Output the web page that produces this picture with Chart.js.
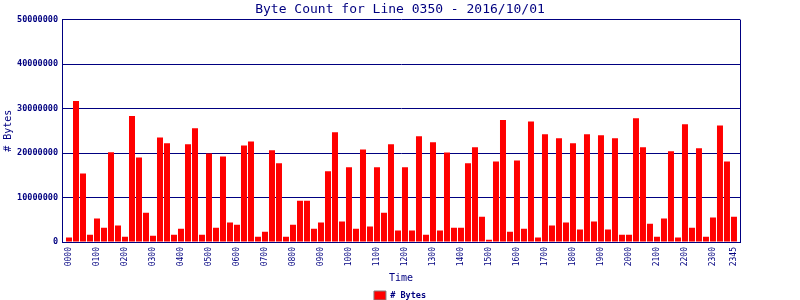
<!DOCTYPE html>
<html>
<head>
<meta charset="utf-8">
<script src="https://cdn.jsdelivr.net/npm/chart.js@4.4.1/dist/chart.umd.min.js"></script>
<style>
  html, body { margin: 0; padding: 0; background: #fff; }
  #wrap { width: 800px; height: 300px; }
</style>
</head>
<body>
<div id="wrap"><canvas id="byteChart" width="800" height="300"></canvas></div>
<script>
// 15 dakikalik zaman dilimleri
const times = [
    "0000","0015","0030","0045","0100","0115","0130","0145","0200","0215","0230","0245",
    "0300","0315","0330","0345","0400","0415","0430","0445","0500","0515","0530","0545",
    "0600","0615","0630","0645","0700","0715","0730","0745","0800","0815","0830","0845",
    "0900","0915","0930","0945","1000","1015","1030","1045","1100","1115","1130","1145",
    "1200","1215","1230","1245","1300","1315","1330","1345","1400","1415","1430","1445",
    "1500","1515","1530","1545","1600","1615","1630","1645","1700","1715","1730","1745",
    "1800","1815","1830","1845","1900","1915","1930","1945","2000","2015","2030","2045",
    "2100","2115","2130","2145","2200","2215","2230","2245","2300","2315","2330","2345"
];

// Byte sayilari (milyon olarak okunmus)
const bytesM = [
    1.0, 31.7, 15.4, 1.65, 5.3, 3.2, 20.2, 3.7, 1.2, 28.3, 19.0, 6.6,
    1.4, 23.5, 22.2, 1.65, 3.0, 22.0, 25.6, 1.65, 19.9, 3.2, 19.2, 4.4,
    3.9, 21.7, 22.6, 1.2, 2.3, 20.6, 17.7, 1.2, 3.9, 9.3, 9.3, 3.0,
    4.4, 15.9, 24.7, 4.6, 16.8, 3.0, 20.8, 3.5, 16.8, 6.6, 22.0, 2.6,
    16.8, 2.6, 23.8, 1.65, 22.4, 2.6, 20.1, 3.2, 3.2, 17.7, 21.3, 5.7,
    0.5, 18.1, 27.4, 2.3, 18.3, 3.0, 27.1, 1.0, 24.2, 3.7, 23.3, 4.4,
    22.2, 2.8, 24.2, 4.6, 24.0, 2.8, 23.3, 1.65, 1.65, 27.8, 21.3, 4.1,
    1.2, 5.3, 20.4, 1.0, 26.5, 3.2, 21.1, 1.2, 5.5, 26.2, 18.1, 5.7
];

// X ekseninde gosterilen etiketler
const tickLabels = [
    "0000","0100","0200","0300","0400","0500","0600","0700","0800","0900","1000","1100",
    "1200","1300","1400","1500","1600","1700","1800","1900","2000","2100","2200","2300","2345"
];

const yTicks = [0, 10000000, 20000000, 30000000, 40000000, 50000000];

const navy = "#000080";
const mono = "'DejaVu Sans Mono', 'Liberation Mono', monospace";

// Cizim alaninin sag kenari
const rightBorder = {
    id: "rightBorder",
    afterDatasetsDraw(chart) {
        const { ctx, chartArea } = chart;
        ctx.save();
        ctx.strokeStyle = navy;
        ctx.lineWidth = 1;
        ctx.beginPath();
        ctx.moveTo(Math.round(chartArea.right) + 0.5, chartArea.top);
        ctx.lineTo(Math.round(chartArea.right) + 0.5, chartArea.bottom);
        ctx.stroke();
        ctx.restore();
    }
};

const ctx = document.getElementById("byteChart").getContext("2d");
new Chart(ctx, {
    type: "bar",
    data: {
        datasets: [{
            label: "# Bytes",
            data: times.map((t, i) => ({ x: i, y: bytesM[i] * 1000000 })),
            backgroundColor: "#ff0000",
            borderWidth: 0,
            barPercentage: 0.857,
            categoryPercentage: 1.0
        }]
    },
    options: {
        responsive: false,
        animation: false,
        layout: { padding: 0 },
        plugins: {
            title: {
                display: true,
                text: "Byte Count for Line 0350 - 2016/10/01",
                color: navy,
                font: { family: mono, size: 13, weight: "normal" },
                padding: { top: 2, bottom: 2 }
            },
            legend: {
                position: "bottom",
                maxHeight: 14,
                labels: {
                    color: navy,
                    font: { family: mono, size: 8.5, weight: "bold" },
                    boxWidth: 12,
                    boxHeight: 9,
                    padding: 5,
                    generateLabels: () => [{
                        text: "# Bytes",
                        fillStyle: "#ff0000",
                        strokeStyle: "#808080",
                        lineWidth: 1,
                        fontColor: navy,
                        datasetIndex: 0
                    }]
                }
            },
            tooltip: { enabled: false }
        },
        scales: {
            x: {
                type: "linear",
                offset: false,
                min: -1,
                max: 95.86,
                grid: { display: false, drawTicks: false },
                border: { display: true, color: navy },
                afterBuildTicks: (scale) => {
                    scale.ticks = tickLabels.map(l => ({ value: times.indexOf(l) }));
                },
                afterFit: (scale) => { scale.height = 44; },
                ticks: {
                    autoSkip: false,
                    maxRotation: 90,
                    minRotation: 90,
                    padding: 5,
                    color: navy,
                    font: { family: mono, size: 8 },
                    callback: (v) => times[v]
                },
                title: {
                    display: true,
                    text: "Time",
                    color: navy,
                    font: { family: mono, size: 10 },
                    padding: { top: 0, bottom: 2 }
                }
            },
            y: {
                min: 0,
                max: 50000000,
                afterBuildTicks: (scale) => {
                    scale.ticks = yTicks.map(v => ({ value: v }));
                },
                afterFit: (scale) => { scale.width = 62; },
                grid: { color: navy, drawTicks: false, lineWidth: 1 },
                border: { display: true, color: navy },
                ticks: {
                    padding: 4,
                    color: navy,
                    font: { family: mono, size: 8.5, weight: "bold" },
                    callback: (v) => String(v)
                },
                title: {
                    display: true,
                    text: "# Bytes",
                    color: navy,
                    font: { family: mono, size: 10 },
                    padding: { top: 2, bottom: 0 }
                }
            },
            // sagdaki bos alan (legend ortalansin diye padding yerine)
            yRight: {
                type: "linear",
                position: "right",
                display: true,
                grid: { display: false, drawTicks: false },
                border: { display: false },
                ticks: { display: false },
                afterFit: (scale) => { scale.width = 60; }
            }
        }
    },
    plugins: [rightBorder]
});
</script>
</body>
</html>
